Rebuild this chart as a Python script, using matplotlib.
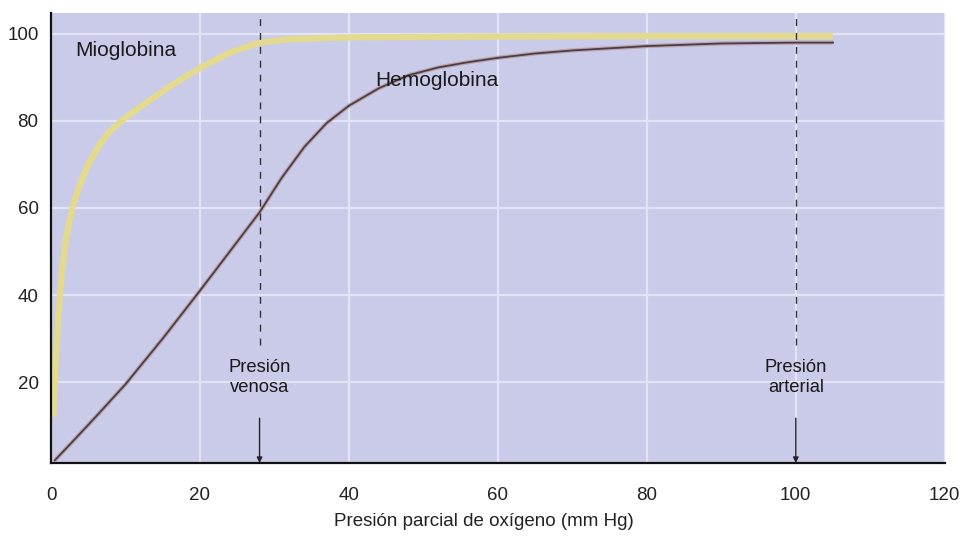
import matplotlib
matplotlib.use('Agg')
import matplotlib.pyplot as plt

plt.rcParams['font.family'] = ['Liberation Sans', 'DejaVu Sans']

# Mioglobina saturation curve
mio_p = [0.3, 0.6, 1, 1.5, 2, 3, 4, 5, 6.6, 8, 10, 13.3, 16, 20, 24, 28, 32, 40, 60, 80, 105]
mio_s = [12, 24, 36, 46, 53, 61, 66, 70, 74.8, 77.8, 80.8, 84.8, 88, 92.2, 95.7, 98, 98.8, 99.2, 99.4, 99.5, 99.5]

# Hemoglobina saturation curve
hb_p = [0.5, 3, 6, 10, 15, 20, 24, 28, 31, 34, 37, 40, 44, 48, 52, 56, 60, 65, 70, 80, 90, 100, 105]
hb_s = [2, 6.5, 12, 19.5, 30, 41, 50, 59, 67, 74, 79.5, 83.5, 87.5, 90.5, 92.3, 93.5, 94.5, 95.5, 96.2, 97.2, 97.8, 98, 98]

x_ticks = [0, 20, 40, 60, 80, 100, 120]
y_ticks = [20, 40, 60, 80, 100]
venosa = 28
arterial = 100

fig = plt.figure(figsize=(9.68, 5.38), dpi=100)
ax = fig.add_axes([0.0527, 0.1394, 0.9233, 0.8364])
ax.set_facecolor('#c9cbe9')
fig.patch.set_facecolor('white')

ax.set_xlim(0, 120)
ax.set_ylim(1.4, 104.8)
ax.set_xticks(x_ticks)
ax.set_yticks(y_ticks)
ax.grid(True, color='#e2e4f5', linewidth=1.6)
ax.set_axisbelow(True)
ax.tick_params(length=0, labelsize=13.5, colors='#222222')
ax.tick_params(axis='x', pad=17)
ax.tick_params(axis='y', pad=9)
for s in ['top', 'right']:
    ax.spines[s].set_visible(False)
for s in ['left', 'bottom']:
    ax.spines[s].set_linewidth(1.6)
    ax.spines[s].set_color('#111111')

ax.plot(mio_p, mio_s, color='#e3da8e', linewidth=4.5, solid_capstyle='butt')
ax.plot(hb_p, hb_s, color='#b9a3ad', linewidth=3.0, solid_capstyle='butt')
ax.plot(hb_p, hb_s, color='#4a3e44', linewidth=1.3)

for xv, label in [(venosa, 'Presión\nvenosa'), (arterial, 'Presión\narterial')]:
    ax.plot([xv, xv], [28.5, 104.8], color='#333333', linewidth=1.0,
            linestyle=(0, (5, 5)))
    ax.text(xv, 21.0, label, ha='center', va='center', fontsize=13.2,
            color='#1a1a1a', linespacing=1.25)
    ax.annotate('', xy=(xv, 1.4), xytext=(xv, 11.7),
                arrowprops=dict(arrowstyle='-|>', color='#222222', lw=1.0,
                                mutation_scale=8, shrinkA=0, shrinkB=0))

ax.text(3.2, 96.3, 'Mioglobina', ha='left', va='center', fontsize=15, color='#1a1a1a')
ax.text(43.5, 89.4, 'Hemoglobina', ha='left', va='center', fontsize=15, color='#1a1a1a')

fig.text(0.5, 0.03, 'Presión parcial de oxígeno (mm Hg)', ha='center', va='center',
         fontsize=13.5, color='#222222')

fig.savefig('out.png', dpi=100)
